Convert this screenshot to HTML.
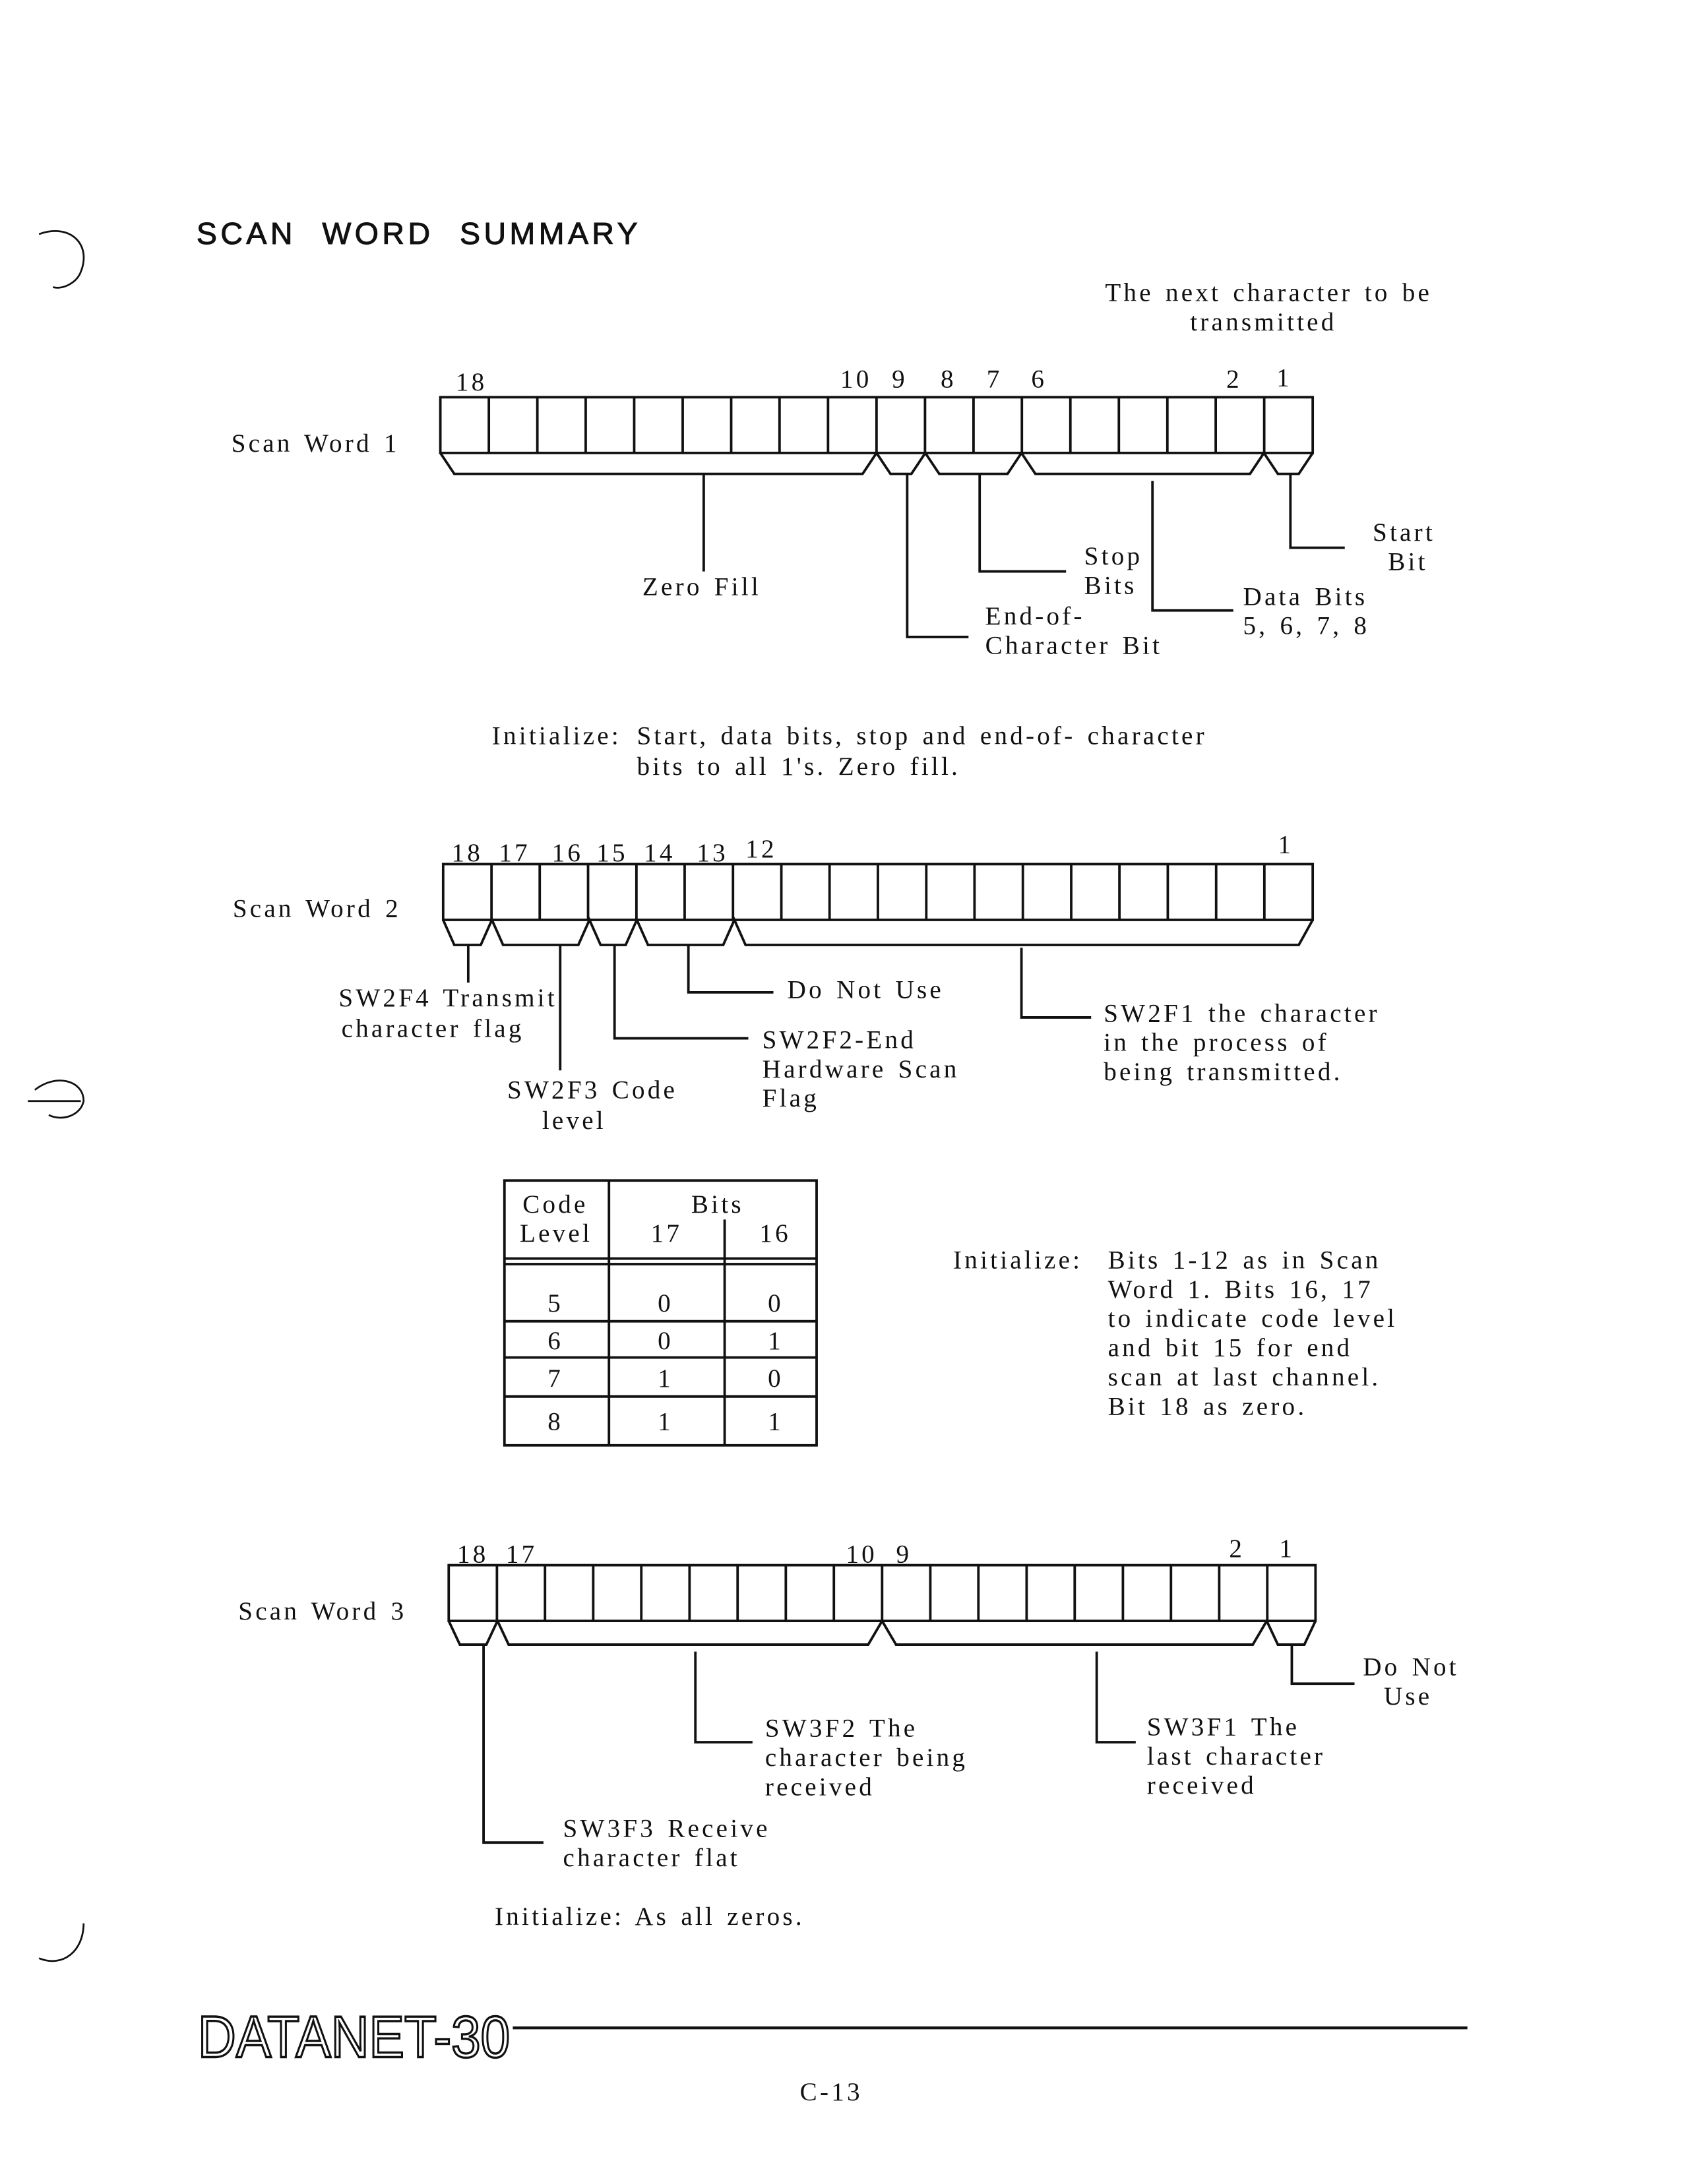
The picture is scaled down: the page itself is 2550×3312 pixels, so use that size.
<!DOCTYPE html>
<html><head><meta charset="utf-8"><style>
html,body{margin:0;padding:0;background:#fff;}
svg{display:block;}
text{font-family:"Liberation Serif",serif;font-size:18.5px;fill:#111;letter-spacing:2px;word-spacing:2px;}
.s{font-family:"Liberation Sans",sans-serif;}
</style></head><body>
<svg width="2550" height="3312" viewBox="0 0 1207 1567" preserveAspectRatio="none" xmlns="http://www.w3.org/2000/svg">
<rect width="1207" height="1567" fill="#fff"/>
<g fill="none" stroke="#111" stroke-width="1.8">
<path d="M28,168 C50,160 66,175 58,195 C55,203 45,208 38,206" stroke-width="1.3"/>
<path d="M28,1405 C45,1412 60,1400 60,1380" stroke-width="1.3"/>
<path d="M25,782 C40,770 60,775 60,790 C58,800 45,805 35,800 M20,790 L58,790" stroke-width="1.3"/>
<rect x="316" y="285" width="626" height="40"/>
<path d="M350.8,285V325M385.6,285V325M420.3,285V325M455.1,285V325M489.9,285V325M524.7,285V325M559.4,285V325M594.2,285V325M629,285V325M663.8,285V325M698.6,285V325M733.3,285V325M768.1,285V325M802.9,285V325M837.7,285V325M872.4,285V325M907.2,285V325"/>
<path d="M316,325 L326,340 L619,340 L629,325 L639,340 L654,340 L664,325 L674,340 L723,340 L733,325 L743,340 L897,340 L907,325 L917,340 L932,340 L942,325"/>
<path d="M505,340V410 M651,340V457H695 M703,340V410H765 M827,345V438H885 M926,340V393H965"/>
<rect x="318" y="620" width="624" height="40"/>
<path d="M352.7,620V660M387.3,620V660M422,620V660M456.7,620V660M491.3,620V660M526,620V660M560.7,620V660M595.3,620V660M630,620V660M664.7,620V660M699.3,620V660M734,620V660M768.7,620V660M803.3,620V660M838,620V660M872.7,620V660M907.3,620V660"/>
<path d="M318,660 L326,678 L345,678 L353,660 L361,678 L415,678 L423,660 L431,678 L449,678 L457,660 L465,678 L519,678 L527,660 L535,678 L932,678 L942,660"/>
<path d="M336,678V705 M402,678V768 M441,678V745H537 M494,678V712H555 M733,680V730H783"/>
<rect x="362" y="847" width="224" height="190"/>
<path d="M362,903H586M362,907H586M362,948H586M362,974H586M362,1002H586M437,847V1037M520,875V1037"/>
<rect x="322" y="1123" width="622" height="40"/>
<path d="M356.6,1123V1163M391.1,1123V1163M425.7,1123V1163M460.2,1123V1163M494.8,1123V1163M529.3,1123V1163M563.9,1123V1163M598.4,1123V1163M633,1123V1163M667.6,1123V1163M702.1,1123V1163M736.7,1123V1163M771.2,1123V1163M805.8,1123V1163M840.3,1123V1163M874.9,1123V1163M909.4,1123V1163"/>
<path d="M322,1163 L330,1180 L349,1180 L357,1163 L365,1180 L623,1180 L633,1163 L643,1180 L899,1180 L909,1163 L917,1180 L936,1180 L944,1163"/>
<path d="M347,1180V1322H390 M499,1185V1250H540 M787,1185V1250H815 M927,1180V1208H972"/>
<path d="M368,1455H1053" stroke-width="2"/>
</g>
<text class="s" x="141" y="175" style="font-size:22px;letter-spacing:2.6px;word-spacing:10px;stroke:#111;stroke-width:0.5">SCAN WORD SUMMARY</text>
<text x="793" y="216">The next character to be</text>
<text x="854" y="237">transmitted</text>
<text x="327" y="280">18</text>
<text x="603" y="278">10</text><text x="640" y="278">9</text><text x="675" y="278">8</text><text x="708" y="278">7</text><text x="740" y="278">6</text><text x="880" y="278">2</text><text x="916" y="277">1</text>
<text x="166" y="324">Scan Word 1</text>
<text x="461" y="427">Zero Fill</text>
<text x="778" y="405">Stop</text><text x="778" y="426">Bits</text>
<text x="707" y="448">End-of-</text><text x="707" y="469">Character Bit</text>
<text x="892" y="434">Data Bits</text><text x="892" y="455">5, 6, 7, 8</text>
<text x="985" y="388">Start</text><text x="996" y="409">Bit</text>
<text x="353" y="534">Initialize:</text>
<text x="457" y="534">Start,  data bits,  stop and end-of- character</text>
<text x="457" y="556">bits to all 1's.   Zero fill.</text>
<text x="324" y="618">18</text><text x="358" y="618">17</text><text x="396" y="618">16</text><text x="428" y="618">15</text><text x="462" y="618">14</text><text x="500" y="618">13</text><text x="535" y="615">12</text><text x="917" y="612">1</text>
<text x="167" y="658">Scan Word 2</text>
<text x="243" y="722">SW2F4 Transmit</text><text x="245" y="744">character flag</text>
<text x="364" y="788">SW2F3 Code</text><text x="389" y="810">level</text>
<text x="547" y="752">SW2F2-End</text><text x="547" y="773">Hardware Scan</text><text x="547" y="794">Flag</text>
<text x="565" y="716">Do Not Use</text>
<text x="792" y="733">SW2F1 the character</text><text x="792" y="754">in the process of</text><text x="792" y="775">being transmitted.</text>
<text x="375" y="870">Code</text><text x="373" y="891">Level</text><text x="496" y="870">Bits</text><text x="467" y="891">17</text><text x="545" y="891">16</text>
<text x="393" y="941">5</text><text x="472" y="941">0</text><text x="551" y="941">0</text>
<text x="393" y="968">6</text><text x="472" y="968">0</text><text x="551" y="968">1</text>
<text x="393" y="995">7</text><text x="472" y="995">1</text><text x="551" y="995">0</text>
<text x="393" y="1026">8</text><text x="472" y="1026">1</text><text x="551" y="1026">1</text>
<text x="684" y="910">Initialize:</text>
<text x="795" y="910">Bits 1-12 as in Scan</text><text x="795" y="931">Word 1.  Bits 16, 17</text><text x="795" y="952">to indicate code level</text><text x="795" y="973">and bit 15 for end</text><text x="795" y="994">scan at last channel.</text><text x="795" y="1015">Bit 18 as zero.</text>
<text x="328" y="1121">18</text><text x="363" y="1121">17</text><text x="607" y="1121">10</text><text x="643" y="1121">9</text><text x="882" y="1117">2</text><text x="918" y="1117">1</text>
<text x="171" y="1162">Scan Word 3</text>
<text x="978" y="1202">Do Not</text><text x="993" y="1223">Use</text>
<text x="549" y="1246">SW3F2  The</text><text x="549" y="1267">character being</text><text x="549" y="1288">received</text>
<text x="823" y="1245">SW3F1  The</text><text x="823" y="1266">last character</text><text x="823" y="1287">received</text>
<text x="404" y="1318">SW3F3 Receive</text><text x="404" y="1339">character flat</text>
<text x="355" y="1381">Initialize:  As all zeros.</text>
<text class="s" x="142" y="1476" textLength="224" lengthAdjust="spacingAndGlyphs" style="font-size:42px;fill:none;stroke:#111;stroke-width:1.6;letter-spacing:0">DATANET-30</text>
<text x="574" y="1507">C-13</text>
</svg>
</body></html>
